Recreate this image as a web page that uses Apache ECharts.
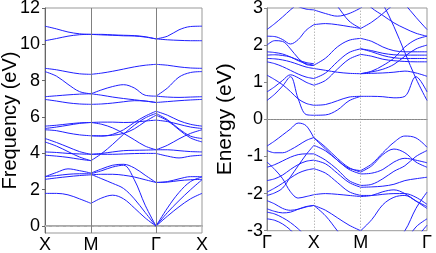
<!DOCTYPE html>
<html><head><meta charset="utf-8">
<script src="https://cdn.jsdelivr.net/npm/echarts@6/dist/echarts.min.js"></script>
<style>html,body{margin:0;padding:0;background:#fff}#c{width:436px;height:253px}</style>
</head><body><div id="c"></div>
<script>
// ---------- Left panel (phonon) ----------
const phTickK = [0, 0.5, 1.207, 1.707];
const phTickLabels = ['X', 'M', 'Γ', 'X'];
const phYTicks = [0, 2, 4, 6, 8, 10, 12];
const phK1 = [0, 0.125, 0.25, 0.375, 0.5];
const phK2 = [0.5, 0.618, 0.736, 0.854, 0.971, 1.089, 1.207];
const phK3 = [1.207, 1.332, 1.457, 1.582, 1.707];
const phSeg1 = [
  [11.0, 10.85, 10.68, 10.58, 10.55],
  [10.2, 10.32, 10.45, 10.53, 10.55],
  [8.68, 8.6, 8.48, 8.38, 8.35],
  [8.5, 8.25, 7.8, 7.4, 7.28],
  [7.12, 7.17, 7.22, 7.26, 7.28],
  [6.97, 6.88, 6.78, 6.72, 6.7],
  [5.5, 5.55, 5.62, 5.68, 5.7],
  [5.37, 5.45, 5.55, 5.65, 5.7],
  [5.3, 5.25, 5.12, 5.02, 4.97],
  [4.82, 4.6, 4.35, 4.1, 3.95],
  [4.63, 4.4, 4.1, 3.8, 3.6],
  [4.08, 4.05, 4.0, 3.97, 3.95],
  [3.9, 3.85, 3.78, 3.68, 3.6],
  [2.72, 2.95, 3.15, 3.05, 2.92],
  [2.72, 2.78, 2.85, 2.88, 2.88],
  [2.57, 2.65, 2.72, 2.78, 2.82],
  [1.8, 1.8, 1.72, 1.5, 1.25]
];
const phSeg2 = [
  [10.55, 10.55, 10.52, 10.5, 10.48, 10.42, 10.3],
  [10.55, 10.52, 10.5, 10.47, 10.46, 10.4, 10.3],
  [8.35, 8.42, 8.52, 8.64, 8.76, 8.85, 8.9],
  [7.28, 7.5, 7.68, 7.78, 7.6, 7.2, 7.15],
  [7.28, 7.2, 7.1, 7.02, 6.95, 6.88, 6.8],
  [6.7, 6.72, 6.77, 6.84, 6.9, 6.88, 6.8],
  [5.7, 5.72, 5.72, 5.7, 5.72, 5.78, 5.83],
  [5.7, 5.6, 5.4, 5.1, 4.75, 4.4, 4.2],
  [4.97, 4.95, 5.05, 5.3, 5.7, 6.05, 6.32],
  [3.6, 4.0, 4.5, 5.05, 5.55, 5.95, 6.2],
  [4.97, 4.97, 5.0, 5.1, 5.35, 5.75, 6.1],
  [3.95, 4.0, 4.08, 4.15, 4.17, 4.18, 4.2],
  [3.95, 3.95, 3.95, 3.97, 3.99, 4.0, 4.0],
  [2.92, 3.15, 3.35, 3.4, 3.2, 2.8, 2.4],
  [2.88, 3.05, 3.25, 3.35, 2.55, 1.15, 0.0],
  [2.82, 2.85, 2.85, 2.8, 2.7, 2.55, 2.4],
  [2.85, 2.6, 2.35, 2.07, 1.5, 0.75, 0.0],
  [1.25, 1.55, 1.7, 1.5, 1.0, 0.45, 0.0]
];
const phSeg3 = [
  [10.3, 10.45, 10.8, 10.98, 11.0],
  [10.3, 10.25, 10.22, 10.2, 10.2],
  [8.9, 8.85, 8.76, 8.7, 8.68],
  [7.15, 7.6, 8.2, 8.45, 8.5],
  [7.15, 7.1, 7.08, 7.1, 7.12],
  [6.8, 6.85, 6.9, 6.94, 6.97],
  [6.32, 6.1, 5.8, 5.6, 5.5],
  [6.2, 5.85, 5.35, 4.95, 4.82],
  [6.1, 5.8, 5.3, 4.85, 4.63],
  [5.83, 5.75, 5.6, 5.45, 5.37],
  [4.2, 4.45, 4.8, 5.1, 5.3],
  [4.2, 4.2, 4.15, 4.1, 4.08],
  [4.0, 3.85, 3.75, 3.85, 3.9],
  [2.4, 2.45, 2.6, 2.72, 2.72],
  [2.4, 2.42, 2.5, 2.55, 2.57],
  [0.0, 1.0, 1.85, 2.45, 2.7],
  [0.0, 0.75, 1.4, 2.0, 2.55],
  [0.0, 0.55, 1.06, 1.5, 1.8]
];

// ---------- Right panel (electronic) ----------
const elTickK = [0, 0.5, 1.0, 1.707];
const elTickLabels = ['Γ', 'X', 'M', 'Γ'];
const elK1 = [0, 0.083, 0.167, 0.25, 0.333, 0.417, 0.5];
const elK2 = [0.5, 0.625, 0.75, 0.875, 1.0];
const elK3 = [1.0, 1.118, 1.236, 1.354, 1.471, 1.589, 1.707];
const elSeg1 = [
  [0.51, 0.68, 0.9, 1.15, 0.55, 0.13, 0.11],
  [1.19, 1.07, 0.93, 0.75, 0.55, 0.43, 0.38],
  [0.74, 0.88, 1.05, 1.2, 1.12, 1.0, 0.92],
  [1.55, 1.5, 1.42, 1.32, 1.22, 1.14, 1.1],
  [1.64, 1.63, 1.6, 1.55, 1.48, 1.41, 1.37],
  [1.73, 1.74, 1.72, 1.68, 1.6, 1.53, 1.5],
  [1.82, 1.8, 1.76, 1.68, 1.58, 1.5, 1.46],
  [2.0, 2.12, 2.1, 1.9, 1.65, 1.48, 1.45],
  [2.24, 2.23, 2.15, 2.03, 2.15, 2.4, 2.55],
  [2.42, 2.58, 2.76, 2.95, 3.12, 3.3, 3.4],
  [3.4, 3.3, 3.2, 3.12, 3.04, 2.97, 2.95],
  [-0.72, -0.58, -0.42, -0.26, -0.1, -0.17, -0.5],
  [-0.84, -0.9, -0.9, -0.82, -0.7, -0.57, -0.49],
  [-1.15, -1.35, -1.6, -1.95, -2.12, -2.08, -2.03],
  [-1.29, -1.22, -1.12, -1.02, -0.95, -0.93, -0.93],
  [-1.65, -1.6, -1.5, -1.35, -1.22, -1.13, -1.1],
  [-1.96, -1.85, -1.72, -1.58, -1.45, -1.37, -1.33],
  [-2.05, -1.98, -1.85, -1.55, -1.25, -0.95, -0.7],
  [-2.19, -2.28, -2.4, -2.45, -2.42, -2.36, -2.32],
  [-2.41, -2.48, -2.52, -2.5, -2.42, -2.35, -2.32],
  [-2.5, -2.55, -2.65, -2.78, -2.95, -3.15, -3.3],
  [-2.68, -2.72, -2.82, -2.98, -3.2, -3.4, -3.5]
];
const elSeg2 = [
  [0.11, 0.12, 0.25, 0.5, 0.62],
  [0.38, 0.4, 0.5, 0.6, 0.62],
  [0.92, 1.05, 1.35, 1.62, 1.75],
  [1.1, 1.25, 1.55, 1.8, 1.9],
  [1.37, 1.32, 1.27, 1.24, 1.23],
  [1.46, 1.65, 1.95, 2.13, 2.18],
  [2.55, 2.58, 2.55, 2.5, 2.45],
  [2.95, 2.85, 2.78, 2.85, 3.0],
  [3.6, 3.4, 3.05, 2.65, 2.45],
  [-0.5, -0.8, -1.1, -1.32, -1.38],
  [-0.49, -0.75, -1.05, -1.3, -1.42],
  [-0.7, -0.85, -1.1, -1.35, -1.47],
  [-0.93, -1.1, -1.35, -1.65, -1.78],
  [-1.1, -1.2, -1.45, -1.7, -1.83],
  [-1.33, -1.45, -1.7, -1.95, -2.05],
  [-2.03, -2.0, -2.02, -2.05, -2.08],
  [-2.32, -2.45, -2.65, -2.85, -3.0],
  [-2.32, -2.6, -3.0, -3.4, -3.6]
];
const elSeg3 = [
  [0.62, 0.62, 0.61, 0.58, 0.62, 1.15, 0.74],
  [3.6, 3.5, 3.1, 2.5, 1.8, 1.1, 0.51],
  [1.23, 1.24, 1.25, 1.27, 1.3, 1.25, 1.16],
  [1.75, 1.7, 1.62, 1.58, 1.56, 1.55, 1.55],
  [1.9, 1.82, 1.72, 1.66, 1.64, 1.64, 1.64],
  [1.9, 1.85, 1.78, 1.74, 1.73, 1.73, 1.73],
  [2.18, 2.1, 1.95, 1.85, 1.82, 1.82, 1.82],
  [1.23, 1.28, 1.35, 1.48, 1.7, 1.9, 2.0],
  [1.23, 1.3, 1.45, 1.65, 1.95, 2.15, 2.24],
  [2.45, 2.62, 2.85, 3.1, 3.3, 3.5, 3.6],
  [3.0, 3.25, 3.5, 3.6, 3.6, 3.6, 3.6],
  [3.3, 3.0, 2.8, 2.6, 2.45, 2.32, 2.24],
  [3.6, 3.6, 3.6, 3.4, 3.1, 2.75, 2.42],
  [-1.38, -1.2, -0.9, -0.62, -0.45, -0.5, -0.75],
  [-1.42, -1.25, -0.95, -0.8, -0.9, -1.15, -1.29],
  [-1.47, -1.45, -1.35, -1.15, -1.05, -1.1, -1.17],
  [-1.78, -1.75, -1.6, -1.4, -1.25, -1.0, -0.84],
  [-1.83, -1.82, -1.8, -1.75, -1.65, -1.6, -1.56],
  [-2.05, -2.05, -2.02, -2.0, -2.0, -2.1, -2.29],
  [-2.08, -2.05, -1.95, -1.9, -2.0, -2.2, -2.4],
  [-3.0, -2.7, -2.3, -2.1, -2.05, -2.2, -2.35],
  [-3.6, -3.6, -3.5, -3.3, -3.0, -2.4, -1.96],
  [-3.6, -3.6, -3.6, -3.5, -3.3, -2.9, -2.68],
  [-3.6, -3.6, -3.6, -3.6, -3.5, -3.2, -2.85]
];

const BLUE = '#1f1fff';
const FONT = 'Liberation Sans, Arial, sans-serif';
const series = [];
function addBands(kArr, bands, gi) {
  bands.forEach(vals => {
    series.push({
      type: 'line', xAxisIndex: gi, yAxisIndex: gi, smooth: 0.35,
      symbol: 'none', silent: true, animation: false, clip: true,
      lineStyle: { color: BLUE, width: 1 },
      data: kArr.map((k, i) => [k, vals[i]])
    });
  });
}
addBands(phK1, phSeg1, 0);
addBands(phK2, phSeg2, 0);
addBands(phK3, phSeg3, 0);
addBands(elK1, elSeg1, 1);
addBands(elK2, elSeg2, 1);
addBands(elK3, elSeg3, 1);

// reference lines
series.unshift({
  type: 'line', xAxisIndex: 0, yAxisIndex: 0, data: [], silent: true, animation: false,
  markLine: {
    symbol: 'none', silent: true, animation: false, label: { show: false },
    data: [
      { yAxis: 0, lineStyle: { color: '#bbbbbb', type: [4, 3], width: 1 } },
      { xAxis: phTickK[1], lineStyle: { color: '#808080', type: 'solid', width: 1 } },
      { xAxis: phTickK[2], lineStyle: { color: '#808080', type: 'solid', width: 1 } }
    ]
  }
});
series.unshift({
  type: 'line', xAxisIndex: 1, yAxisIndex: 1, data: [], silent: true, animation: false,
  markLine: {
    symbol: 'none', silent: true, animation: false, label: { show: false },
    data: [
      { yAxis: 0, lineStyle: { color: '#999999', type: [1, 2], width: 1 } },
      { xAxis: elTickK[1], lineStyle: { color: '#999999', type: [1, 2], width: 1 } },
      { xAxis: elTickK[2], lineStyle: { color: '#999999', type: [1, 2], width: 1 } }
    ]
  }
});

function xAx(ticks, labels, gi) {
  return {
    type: 'value', gridIndex: gi, min: ticks[0], max: ticks[ticks.length - 1],
    axisLine: { show: true, lineStyle: { color: gi === 0 ? '#aaaaaa' : '#888888', width: gi === 0 ? 2 : 1 } },
    axisTick: { show: false },
    splitLine: { show: false },
    axisLabel: {
      customValues: ticks, margin: 3, color: '#000', fontSize: 18, fontFamily: FONT,
      formatter: v => { const i = ticks.findIndex(t => Math.abs(t - v) < 1e-6); return i >= 0 ? labels[i] : ''; }
    }
  };
}
const chart = echarts.init(document.getElementById('c'), null, { renderer: 'canvas' });
chart.setOption({
  animation: false,
  backgroundColor: '#ffffff',
  grid: [
    { left: 45, top: 8, width: 157, height: 225, show: true, borderColor: '#999999', borderWidth: 1, containLabel: false, outerBoundsMode: 'none' },
    { left: 267, top: 8, width: 160, height: 222.7, show: true, borderColor: '#999999', borderWidth: 1, containLabel: false, outerBoundsMode: 'none' }
  ],
  xAxis: [xAx(phTickK, phTickLabels, 0), xAx(elTickK, elTickLabels, 1)],
  yAxis: [
    {
      type: 'value', gridIndex: 0, min: -0.38, max: 12,
      name: 'Frequency (eV)', nameLocation: 'middle', nameGap: 25, nameMoveOverlap: false,
      nameTextStyle: { fontSize: 20, fontFamily: FONT, color: '#000' },
      axisLine: { show: true, lineStyle: { color: '#666666' } },
      axisTick: { show: true, customValues: phYTicks, length: 3, lineStyle: { color: '#666666' } },
      splitLine: { show: false },
      axisLabel: { customValues: phYTicks, margin: 5, color: '#000', fontSize: 18, fontFamily: FONT }
    },
    {
      type: 'value', gridIndex: 1, min: -3, max: 3, interval: 1,
      name: 'Energy (eV)', nameLocation: 'middle', nameGap: 31, nameMoveOverlap: false,
      nameTextStyle: { fontSize: 21, fontFamily: FONT, color: '#000' },
      axisLine: { show: true, lineStyle: { color: '#888888' } },
      axisTick: { show: true, length: 3, lineStyle: { color: '#888888' } },
      splitLine: { show: false },
      axisLabel: { margin: 4, color: '#000', fontSize: 18, fontFamily: FONT }
    }
  ],
  series: series
});
</script></body></html>
